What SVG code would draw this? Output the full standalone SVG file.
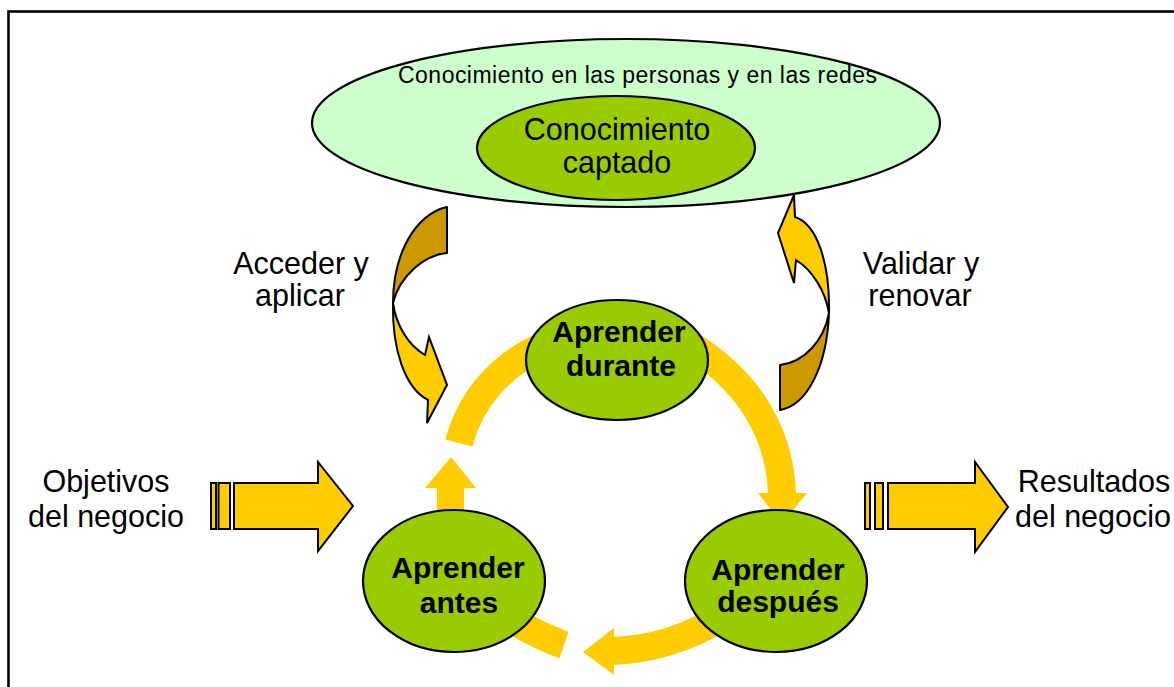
<svg xmlns="http://www.w3.org/2000/svg" width="1174" height="687" viewBox="0 0 1174 687">
  <style>
    text { font-family: "Liberation Sans", Arial, sans-serif; fill: #000; }
    .lbl { font-size: 30.5px; text-anchor: middle; }
    .bold { font-size: 30px; font-weight: bold; text-anchor: middle; }
    .node { fill: #99CC00; stroke: #000; stroke-width: 2.2; }
    .cloud { fill: #CCFFCC; stroke: #000; stroke-width: 2.2; }
    .band { fill: none; stroke: #FFCC00; stroke-width: 28; stroke-linecap: butt; }
    .head { fill: #FFCC00; stroke: none; }
    .block { fill: #FFCC00; stroke: #000; stroke-width: 2; stroke-linejoin: miter; }
    .back { fill: #CC9900; stroke: #000; stroke-width: 2; stroke-linejoin: round; }
  </style>

  <!-- frame -->
  <rect x="8.5" y="11.5" width="1200" height="700" fill="#fff" stroke="#000" stroke-width="2.6"/>

  <!-- learning cycle connectors -->
  <g id="connectors">
    <!-- antes -> durante -->
    <rect x="437" y="486" width="27" height="40" class="head"/>
    <polygon points="425,488 451,457 476,488" class="head"/>
    <path d="M 459,443 C 470,400 500,365 545,345" class="band"/>
    <!-- durante -> despues -->
    <path d="M 690,345 C 740,375 780,425 782,494" class="band"/>
    <polygon points="758,493 807,493 782,524" class="head"/>
    <!-- despues -> antes -->
    <path d="M 612,651 C 650,650 690,638 725,615" class="band"/>
    <polygon points="583,652 614,628 614,675" class="head"/>
    <path d="M 505,615 Q 535,635 564,645" class="band"/>
  </g>

  <!-- access / apply curved arrow -->
  <g id="access-arrow">
    <path class="back" d="M 440,209 L 447,207 L 447,253 C 425,255 400,275 393,303 C 393,260 410,222 440,209 Z"/>
    <path class="block" d="M 393,303 C 396,325 408,345 425,355 L 429,337 L 447,385 L 427,423 L 428,400 C 405,388 392,350 393,303 Z"/>
    <text class="lbl" x="301" y="274">Acceder y</text>
    <text class="lbl" x="300" y="306">aplicar</text>
  </g>

  <!-- validate / renew curved arrow -->
  <g id="validate-arrow">
    <path class="back" d="M 829,313 C 827,365 808,405 780,410 L 780,365 C 805,362 824,340 829,313 Z"/>
    <path class="block" d="M 795,217 C 817,224 830,263 829,313 C 825,290 812,270 796,260 L 794,283 L 778,233 L 794,195 Z"/>
    <text class="lbl" x="921" y="274">Validar y</text>
    <text class="lbl" x="920" y="306">renovar</text>
  </g>

  <!-- knowledge in people and networks -->
  <g id="people-knowledge">
    <ellipse cx="626" cy="123" rx="314" ry="84" class="cloud"/>
    <text x="398" y="83" font-size="23" textLength="479" lengthAdjust="spacing">Conocimiento en las personas y en las redes</text>
  </g>

  <g id="captured-knowledge">
    <ellipse cx="616" cy="148" rx="139" ry="52" class="node"/>
    <text class="lbl" x="617" y="140">Conocimiento</text>
    <text class="lbl" x="617" y="173">captado</text>
  </g>

  <g id="learn-during">
    <ellipse cx="617" cy="360" rx="91" ry="60" class="node"/>
    <text class="bold" x="619" y="342">Aprender</text>
    <text class="bold" x="621" y="376">durante</text>
  </g>

  <g id="learn-before">
    <ellipse cx="454" cy="581" rx="91" ry="71" class="node"/>
    <text class="bold" x="458" y="578">Aprender</text>
    <text class="bold" x="459" y="613">antes</text>
  </g>

  <g id="learn-after">
    <ellipse cx="776" cy="581" rx="91" ry="71" class="node"/>
    <text class="bold" x="778" y="580">Aprender</text>
    <text class="bold" x="778" y="612">después</text>
  </g>

  <!-- business goals input -->
  <g id="business-goals">
    <rect x="211" y="483" width="5" height="46" class="block"/>
    <rect x="218.5" y="483" width="11.5" height="46" class="block"/>
    <polygon points="234,483 318,483 318,462 353,506 318,551 318,529 234,529" class="block"/>
    <text class="lbl" x="106" y="492">Objetivos</text>
    <text class="lbl" x="106" y="527">del negocio</text>
  </g>

  <!-- business results output -->
  <g id="business-results">
    <rect x="865" y="483" width="5" height="46" class="block"/>
    <rect x="875" y="483" width="8" height="46" class="block"/>
    <polygon points="888,483 975,483 975,462 1008,507 975,552 975,529 888,529" class="block"/>
    <text class="lbl" x="1094" y="492">Resultados</text>
    <text class="lbl" x="1093" y="527">del negocio</text>
  </g>
</svg>
